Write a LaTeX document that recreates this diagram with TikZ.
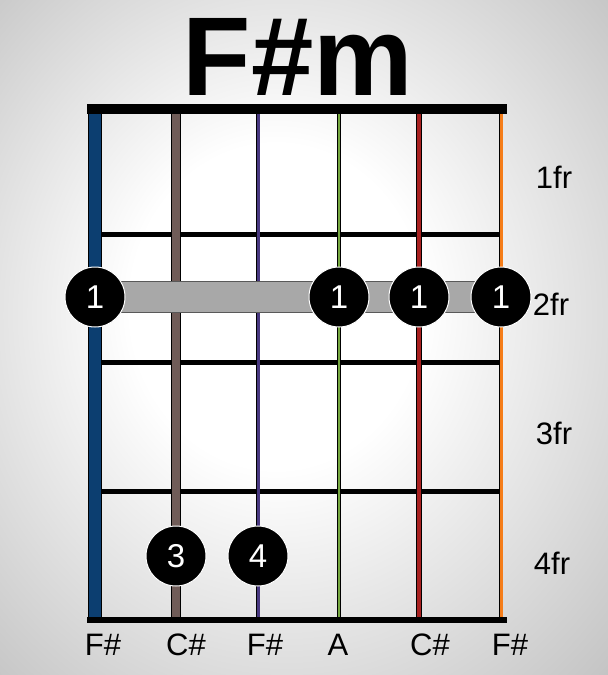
\documentclass[tikz,border=0pt]{standalone}
\usepackage{fontspec}
\setmainfont{Liberation Sans}
\usepackage{xcolor}
\usetikzlibrary{positioning, calc}
\definecolor{stringblue}{RGB}{12,62,112}
\definecolor{stringbrown}{RGB}{112,92,88}
\definecolor{stringpurple}{RGB}{72,56,128}
\definecolor{stringgreen}{RGB}{118,168,64}
\definecolor{stringred}{RGB}{168,32,32}
\definecolor{stringorange}{RGB}{245,125,25}
\definecolor{barregray}{RGB}{168,168,168}
\pgfdeclareradialshading{backdrop}{\pgfpoint{-3bp}{3bp}}{color(0bp)=(white); color(12bp)=(white); color(36bp)=(gray!45); color(52bp)=(gray!100)}

\begin{document}
\begin{tikzpicture}[
    x=1pt, y=-1pt,
    every node/.style={font=\fontsize{31}{31}\selectfont},
    gtrstring/.style={draw=black, line width=0.8pt, double=#1},
    fret/.style={line width=5pt, black},
    barre/.style={draw=black!65, line width=0.8pt, double=barregray, double distance=30pt},
    fingerdot/.style={circle, fill=black, draw=white, line width=1pt, minimum size=60pt, inner sep=0pt, text=white, font=\fontsize{33}{33}\selectfont},
    notelabel/.style={anchor=base}
]
\useasboundingbox (0,0) rectangle (608,675);
\shade[shading=backdrop] (0,0) rectangle (608,675);

% frets
\draw[fret] (95,234) -- (501,234);
\draw[fret] (95,362) -- (501,362);
\draw[fret] (95,491) -- (501,491);

% strings
\draw[gtrstring=stringblue, double distance=12pt] (95,114) -- (95,617);
\draw[gtrstring=stringbrown, double distance=7.5pt] (176,114) -- (176,617);
\draw[gtrstring=stringpurple, double distance=3pt] (258,114) -- (258,617);
\draw[gtrstring=stringgreen, double distance=2pt] (339,114) -- (339,617);
\draw[gtrstring=stringred, double distance=3.5pt] (419,114) -- (419,617);
\draw[gtrstring=stringorange, double distance=3pt] (501,114) -- (501,617);

% nut and bottom edge
\draw[line width=10pt] (87,109) -- (507,109);
\draw[line width=6pt] (87,620) -- (507,620);

\node[anchor=base, font=\fontsize{112}{112}\selectfont\bfseries] (title) at (298,95) {F\#m};

% barre
\coordinate (barL) at (95,297);
\coordinate (barR) at (501,297);
\draw[barre] (barL) -- (barR);

\node[fingerdot] (f1) at (95,297) {1};
\node[fingerdot] (f4) at (339,297) {1};
\node[fingerdot] (f5) at (419,297) {1};
\node[fingerdot] (f6) at (501,297) {1};
\node[fingerdot] (f2) at (176,556) {3};
\node[fingerdot] (f3) at (258,556) {4};

\node (fr1) at (554,177) {1fr};
\node (fr2) at (551,304) {2fr};
\node (fr3) at (554,433) {3fr};
\node (fr4) at (552,563) {4fr};

\node[notelabel] (n1) at (103,655) {F\#};
\node[notelabel] (n2) at (186,655) {C\#};
\node[notelabel] (n3) at (265,655) {F\#};
\node[notelabel] (n4) at (338,655) {A};
\node[notelabel] (n5) at (430,655) {C\#};
\node[notelabel] (n6) at (510,655) {F\#};

\end{tikzpicture}
\end{document}
